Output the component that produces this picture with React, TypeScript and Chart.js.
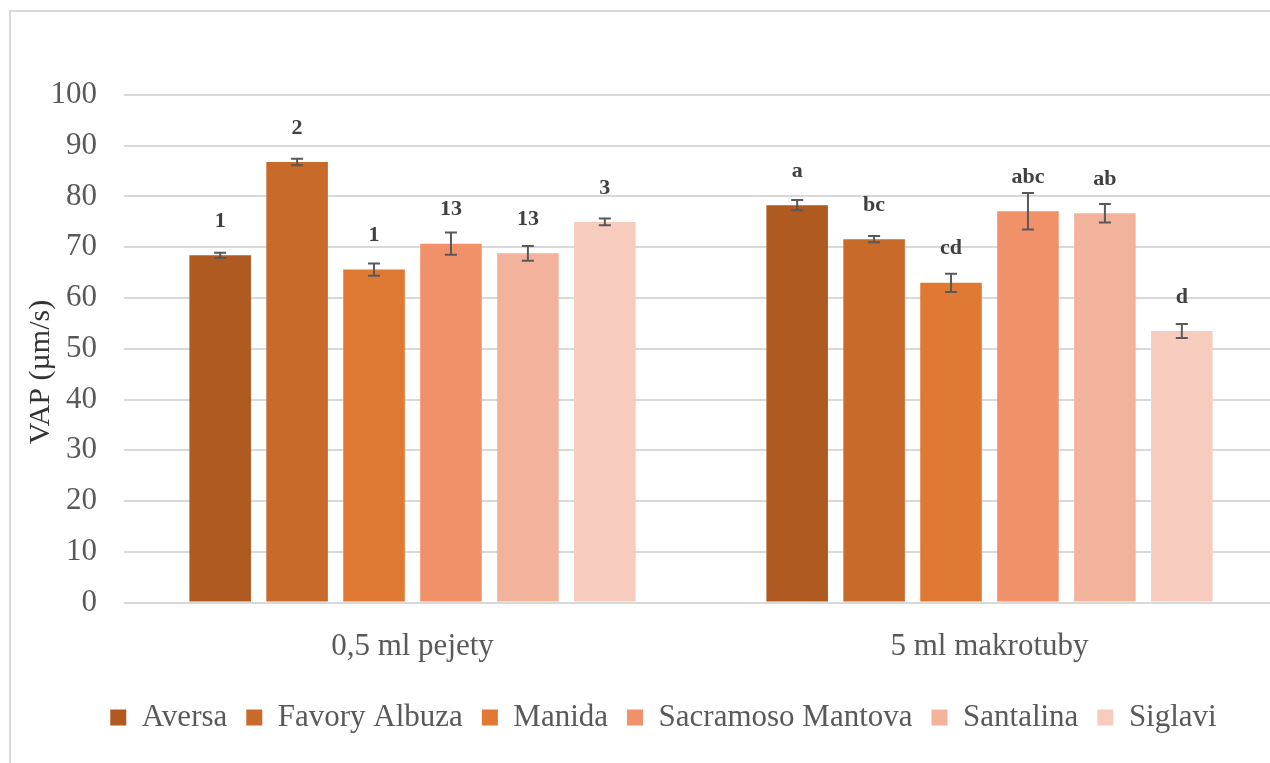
import React, { useEffect, useRef } from "react";
import { Chart, registerables } from "chart.js";

Chart.register(...registerables);

const categories = ["0,5 ml pejety", "5 ml makrotuby"];
const seriesNames = ["Aversa", "Favory Albuza", "Manida", "Sacramoso Mantova", "Santalina", "Siglavi"];
const seriesColors = ["#AE5A21", "#C86A29", "#E07933", "#F0916A", "#F3B29B", "#F7CBBE"];

const aversa = [68.4, 78.3];
const favoryAlbuza = [86.8, 71.6];
const manida = [65.6, 63.0];
const sacramosoMantova = [70.7, 77.1];
const santalina = [68.8, 76.7];
const siglavi = [75.0, 53.5];

const aversaErr = [0.5, 1.0];
const favoryAlbuzaErr = [0.65, 0.6];
const manidaErr = [1.2, 1.8];
const sacramosoMantovaErr = [2.2, 3.6];
const santalinaErr = [1.45, 1.8];
const siglaviErr = [0.65, 1.4];

const aversaLabels = ["1", "a"];
const favoryAlbuzaLabels = ["2", "bc"];
const manidaLabels = ["1", "cd"];
const sacramosoMantovaLabels = ["13", "abc"];
const santalinaLabels = ["13", "ab"];
const siglaviLabels = ["3", "d"];

const yTicks = [0, 10, 20, 30, 40, 50, 60, 70, 80, 90, 100];
const yTitle = "VAP (µm/s)";

const seriesValues = [aversa, favoryAlbuza, manida, sacramosoMantova, santalina, siglavi];
const seriesErrors = [aversaErr, favoryAlbuzaErr, manidaErr, sacramosoMantovaErr, santalinaErr, siglaviErr];
const seriesLabels = [aversaLabels, favoryAlbuzaLabels, manidaLabels, sacramosoMantovaLabels, santalinaLabels, siglaviLabels];

const FONT = "'Liberation Serif', 'Times New Roman', serif";

const extrasPlugin = {
  id: "extras",
  afterDatasetsDraw(chart: any) {
    const ctx = chart.ctx;
    const yScale = chart.scales.y;
    ctx.save();
    chart.data.datasets.forEach((ds: any, di: number) => {
      const meta = chart.getDatasetMeta(di);
      meta.data.forEach((el: any, i: number) => {
        const v = ds.data[i];
        const e = seriesErrors[di][i];
        const x = el.x;
        const yt = yScale.getPixelForValue(v + e);
        const yb = yScale.getPixelForValue(v - e);
        ctx.strokeStyle = "#595959";
        ctx.lineWidth = 2;
        ctx.beginPath();
        ctx.moveTo(x, yt);
        ctx.lineTo(x, yb);
        ctx.moveTo(x - 6, yt);
        ctx.lineTo(x + 6, yt);
        ctx.moveTo(x - 6, yb);
        ctx.lineTo(x + 6, yb);
        ctx.stroke();
        ctx.fillStyle = "#404040";
        ctx.font = `bold 22px ${FONT}`;
        ctx.textAlign = "center";
        ctx.textBaseline = "middle";
        ctx.fillText(seriesLabels[di][i], x, el.y - 34);
      });
    });
    // y-axis title
    ctx.fillStyle = "#333333";
    ctx.font = `30px ${FONT}`;
    ctx.textAlign = "center";
    ctx.textBaseline = "middle";
    ctx.translate(30, 360);
    ctx.rotate(-Math.PI / 2);
    ctx.fillText(yTitle, 0, 0);
    ctx.restore();
  },
};

export default function App() {
  const ref = useRef<HTMLCanvasElement>(null);
  useEffect(() => {
    if (!ref.current) return;
    const chart = new Chart(ref.current, {
      type: "bar",
      data: {
        labels: categories,
        datasets: seriesNames.map((name, i) => ({
          label: name,
          data: seriesValues[i],
          backgroundColor: seriesColors[i],
          borderWidth: 0,
          categoryPercentage: 0.8,
          barPercentage: 0.8,
        })),
      },
      options: {
        responsive: false,
        animation: false,
        events: [],
        layout: { padding: { left: 38, right: 40, top: 83, bottom: 0 } },
        font: { family: FONT },
        plugins: {
          tooltip: { enabled: false },
          legend: {
            position: "bottom",
            labels: {
              boxWidth: 16,
              boxHeight: 16,
              padding: 19,
              color: "#595959",
              font: { family: FONT, size: 31 },
            },
          },
        },
        scales: {
          x: {
            grid: { display: false, drawTicks: false },
            border: { display: false },
            ticks: { color: "#595959", font: { family: FONT, size: 31 }, padding: 25.4 },
            afterFit: (s: any) => {
              s.height = 80.5;
            },
          },
          y: {
            min: 0,
            max: 100,
            afterBuildTicks: (s: any) => {
              s.ticks = yTicks.map((v) => ({ value: v }));
            },
            grid: { color: "#d9d9d9", lineWidth: 2, drawTicks: false },
            border: { display: false },
            ticks: { color: "#595959", font: { family: FONT, size: 31 }, padding: 27 },
            afterFit: (s: any) => {
              s.width = 75;
            },
          },
        },
      },
      plugins: [extrasPlugin],
    });
    return () => chart.destroy();
  }, []);
  return (
    <div style={{ position: "fixed", left: 0, top: 0, width: 1270, height: 763, overflow: "hidden", background: "#fff" }}>
      <div style={{ position: "absolute", left: 9, top: 10, border: "2px solid #d9d9d9", width: 1307, height: 780 }}>
        <canvas ref={ref} width={1307} height={731} style={{ display: "block", width: 1307, height: 731 }} />
      </div>
    </div>
  );
}
